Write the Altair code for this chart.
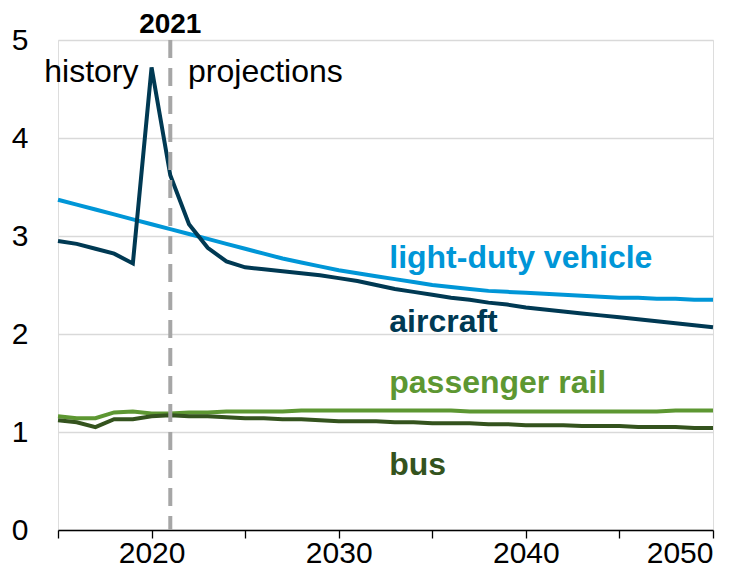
import altair as alt
import pandas as pd

years = list(range(2015, 2051))

ldv = [3.37, 3.32, 3.27, 3.22, 3.17, 3.12, 3.07, 3.02, 2.97, 2.92, 2.87, 2.82, 2.77, 2.73, 2.69, 2.65,
       2.62, 2.59, 2.56, 2.53, 2.50, 2.48, 2.46, 2.44, 2.43, 2.42, 2.41, 2.40, 2.39, 2.38, 2.37,
       2.37, 2.36, 2.36, 2.35, 2.35]
aircraft = [2.95, 2.92, 2.87, 2.82, 2.72, 4.72, 3.62, 3.12, 2.88, 2.74, 2.68, 2.66, 2.64, 2.62, 2.60, 2.57,
            2.54, 2.50, 2.46, 2.43, 2.40, 2.37, 2.35, 2.32, 2.30, 2.27, 2.25, 2.23, 2.21, 2.19, 2.17,
            2.15, 2.13, 2.11, 2.09, 2.07]
rail = [1.16, 1.14, 1.14, 1.20, 1.21, 1.19, 1.19, 1.20, 1.20, 1.21, 1.21, 1.21, 1.21, 1.22, 1.22, 1.22,
        1.22, 1.22, 1.22, 1.22, 1.22, 1.22, 1.21, 1.21, 1.21, 1.21, 1.21, 1.21, 1.21, 1.21, 1.21,
        1.21, 1.21, 1.22, 1.22, 1.22]
bus = [1.12, 1.10, 1.05, 1.13, 1.13, 1.16, 1.17, 1.16, 1.16, 1.15, 1.14, 1.14, 1.13, 1.13, 1.12, 1.11,
       1.11, 1.11, 1.10, 1.10, 1.09, 1.09, 1.09, 1.08, 1.08, 1.07, 1.07, 1.07, 1.06, 1.06, 1.06,
       1.05, 1.05, 1.05, 1.04, 1.04]

series_names = ["light-duty vehicle", "aircraft", "passenger rail", "bus"]
series_colors = ["#0096D7", "#003953", "#5D9732", "#34531E"]
label_x = [2032.7, 2032.7, 2032.7, 2032.7]
label_y = [2.78, 2.12, 1.50, 0.66]

rows = []
for name, vals in zip(series_names, [ldv, aircraft, rail, bus]):
    for y, v in zip(years, vals):
        rows.append({"year": y, "value": v, "series": name})
df = pd.DataFrame(rows)

xscale = alt.Scale(domain=[2015, 2050], nice=False, zero=False)
yscale = alt.Scale(domain=[0, 5], nice=False)
cscale = alt.Scale(domain=series_names, range=series_colors)

FONT = "Liberation Sans"

lines = alt.Chart(df).mark_line(strokeWidth=4, strokeJoin="miter").encode(
    x=alt.X("year:Q", scale=xscale,
            axis=alt.Axis(title=None, values=list(range(2015, 2051, 5)), format="d",
                          labelExpr="datum.value % 10 == 0 ? datum.label : ''",
                          grid=False, domainColor="#000000", domainWidth=1.3,
                          tickColor="#000000", tickSize=8, tickWidth=1.3,
                          labelFontSize=30, labelColor="#000000", labelPadding=0,
                          labelFont=FONT)),
    y=alt.Y("value:Q", scale=yscale,
            axis=alt.Axis(title=None, values=[0, 1, 2, 3, 4, 5], format="d", domain=False, ticks=False,
                          gridColor="#D9D9D9", gridWidth=1.5,
                          labelFontSize=30, labelColor="#000000", labelPadding=30,
                          labelFont=FONT)),
    color=alt.Color("series:N", scale=cscale, legend=None),
    detail="series:N",
)

vline = alt.Chart(pd.DataFrame({"year": [2021]})).mark_rule(
    color="#A6A6A6", strokeWidth=4, strokeDash=[18, 10]
).encode(x=alt.X("year:Q", scale=xscale), y=alt.value(0), y2=alt.value(490))

labels_df = pd.DataFrame({"x": label_x, "y": label_y, "text": series_names})
labels = alt.Chart(labels_df).mark_text(
    align="left", baseline="middle", fontSize=32, fontWeight="bold", font=FONT
).encode(
    x=alt.X("x:Q", scale=xscale), y=alt.Y("y:Q", scale=yscale), text="text:N",
    color=alt.Color("text:N", scale=cscale, legend=None),
)

ann_text = ["history", "projections"]
ann_x = [2019.3, 2021.95]
ann_y = [4.67, 4.67]
ann_right = alt.Chart(pd.DataFrame({"x": [ann_x[0]], "y": [ann_y[0]], "t": [ann_text[0]]})).mark_text(
    align="right", baseline="middle", fontSize=32, font=FONT, color="#000000"
).encode(x=alt.X("x:Q", scale=xscale), y=alt.Y("y:Q", scale=yscale), text="t:N")
ann_left = alt.Chart(pd.DataFrame({"x": [ann_x[1]], "y": [ann_y[1]], "t": [ann_text[1]]})).mark_text(
    align="left", baseline="middle", fontSize=32, font=FONT, color="#000000"
).encode(x=alt.X("x:Q", scale=xscale), y=alt.Y("y:Q", scale=yscale), text="t:N")

top_label = alt.Chart(pd.DataFrame({"x": [2021], "t": ["2021"]})).mark_text(
    align="center", baseline="middle", fontSize=28, fontWeight="bold", font=FONT,
    color="#000000", dy=-15
).encode(x=alt.X("x:Q", scale=xscale), y=alt.value(0), text="t:N")

chart = alt.layer(lines, vline, labels, ann_right, ann_left, top_label).properties(
    width=655, height=490,
    autosize=alt.AutoSizeParams(type="none"),
    padding={"left": 50, "top": 32, "right": 33, "bottom": 39},
).configure_view(stroke=None).configure(background="#FFFFFF")

chart.save("out.html", embed_options={"renderer": "svg", "actions": False})
